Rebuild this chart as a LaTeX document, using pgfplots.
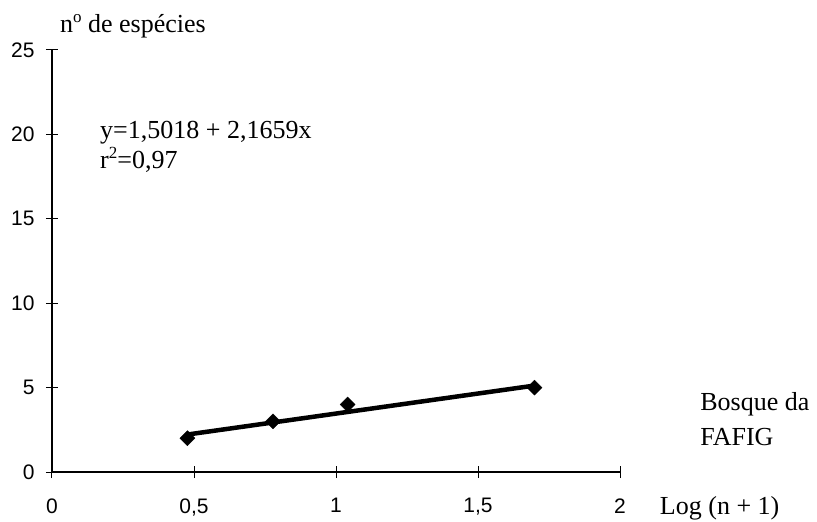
\documentclass[border=0pt]{standalone}
\usepackage{pgfplots}
\pgfplotsset{compat=1.18}
\usepackage{fontspec}
\setmainfont{Liberation Serif}
\newfontfamily\arialfont{Liberation Sans}
\newcommand{\sups}[1]{\raisebox{0.40em}{\fontsize{17bp}{17bp}\selectfont #1}}
\begin{document}
\begin{tikzpicture}
\path (-52bp,-50bp) rectangle (765bp,472bp);
\begin{axis}[
  scale only axis,
  width=568bp, height=422bp,
  xmin=0, xmax=2, ymin=0, ymax=25,
  axis lines=left,
  axis line style={-, line width=1.1bp},
  xtick={0,0.5,1,1.5,2},
  xticklabels={0,{0,5},1,{1,5},2},
  ytick={0,5,10,15,20,25},
  yticklabels={0,5,10,15,20,25},
  tick align=center,
  major tick length=12bp,
  tick style={line width=1bp, black},
  ticklabel style={font=\arialfont\fontsize{21bp}{24bp}\selectfont},
  xticklabel style={yshift=-17bp},
  yticklabel style={xshift=-8bp},
  clip=false,
]
\addplot[black, line width=4.5bp, mark=none] coordinates {(0.477,2.22) (1.699,5.12)};
\addplot[only marks, mark=square*, mark size=5.3bp, mark options={rotate=45, fill=black, draw=black}] coordinates {
(0.477,2) (0.778,3) (1.041,4) (1.699,5)};
\node[anchor=west, font=\fontsize{26bp}{30bp}\selectfont, inner sep=0pt] at (axis cs:0.028,26.4) {n\sups{o} de espécies};
\node[anchor=west, font=\fontsize{26bp}{30bp}\selectfont, inner sep=0pt] at (axis cs:0.169,20.08) {y=1,5018 + 2,1659x};
\node[anchor=west, font=\fontsize{26bp}{30bp}\selectfont, inner sep=0pt] at (axis cs:0.169,18.5) {r\sups{2}=0,97};
\node[anchor=west, font=\fontsize{26bp}{30bp}\selectfont, inner sep=0pt] at (axis cs:2.282,4.0) {Bosque da};
\node[anchor=west, font=\fontsize{26bp}{30bp}\selectfont, inner sep=0pt] at (axis cs:2.282,2.05) {FAFIG};
\node[anchor=west, font=\fontsize{26bp}{30bp}\selectfont, inner sep=0pt] at (axis cs:2.14,-2.15) {Log (n + 1)};
\end{axis}
\end{tikzpicture}
\end{document}
